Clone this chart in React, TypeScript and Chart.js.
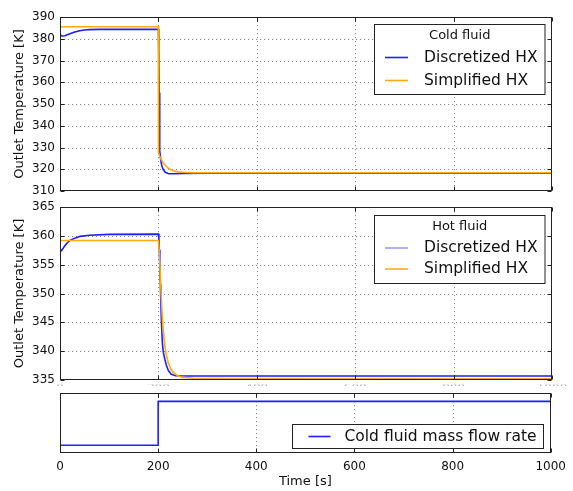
import React, { useEffect, useRef } from "react";
import { Chart, registerables } from "chart.js";

Chart.register(...registerables);

const FONT = "'DejaVu Sans', sans-serif";
const BLUE = "rgb(30,30,255)";
const ORANGE = "rgb(255,170,20)";

// Time axis
const timeTicks = [0, 200, 400, 600, 800, 1000];

// Cold fluid outlet temperature [K]
const coldDiscretizedTime = [0, 5, 10, 20, 30, 40, 50, 60, 80, 200, 200.7, 201.5, 202.3, 203, 205, 207, 210, 214, 220, 230, 250, 300, 1000];
const coldDiscretizedTemp = [381.7, 381.3, 381.4, 382.3, 383.1, 383.7, 384.0, 384.2, 384.3, 384.3, 375, 355, 335, 328.5, 324, 321.5, 319.8, 318.6, 318.0, 317.9, 318.1, 318.2, 318.2];
const coldSimplifiedTime = [0, 199.8, 200.2, 203, 206, 210, 215, 220, 225, 230, 240, 250, 270, 300, 1000];
const coldSimplifiedTemp = [385.5, 385.5, 327.5, 325.8, 324.3, 322.9, 321.5, 320.5, 319.8, 319.3, 318.8, 318.6, 318.45, 318.4, 318.4];

// Hot fluid outlet temperature [K]
const hotDiscretizedTime = [0, 3, 6, 10, 15, 20, 30, 40, 60, 100, 200, 201, 202, 203, 204, 205, 206, 208, 210, 213, 216, 220, 226, 235, 250, 1000];
const hotDiscretizedTemp = [357.7, 357.4, 357.8, 358.3, 358.8, 359.2, 359.6, 359.9, 360.1, 360.25, 360.3, 359.5, 357.5, 354.5, 351.5, 348.5, 345.5, 341.5, 339.8, 338.6, 337.6, 336.7, 336.0, 335.75, 335.7, 335.7];
const hotSimplifiedTime = [0, 200, 202, 204, 206, 208, 210, 213, 216, 220, 225, 230, 240, 250, 270, 300, 1000];
const hotSimplifiedTemp = [359.2, 359.2, 357, 353, 349, 345.8, 343.5, 341, 339.4, 338.0, 336.9, 336.3, 335.7, 335.45, 335.3, 335.25, 335.2];

// Cold fluid mass flow rate (normalised)
const flowTime = [0, 200, 200, 1000];
const flowRate = [0.13, 0.13, 0.86, 0.86];

const toPoints = (xs: number[], ys: number[]) => xs.map((x, i) => ({ x, y: ys[i] }));

type LegendEntry = { label: string; color: string; width: number };
type LegendOpts = {
  right: number; top: number; width: number; height: number;
  title?: string; titleY?: number;
  rows: number[]; sampleX: [number, number]; textX: number;
  entries: LegendEntry[];
};

// Dotted grid, box frame with inward ticks, boxed legend, clipped tick labels
const axesDecor = {
  id: "axesDecor",
  beforeDatasetsDraw(chart: any, _a: any, opts: any) {
    const { ctx, chartArea: a, scales } = chart;
    ctx.save();
    ctx.strokeStyle = "#8a8a8a";
    ctx.lineWidth = 1;
    ctx.setLineDash([1.2, 2.8]);
    for (const t of scales.x.ticks) {
      const px = Math.round(scales.x.getPixelForValue(t.value)) + 0.5;
      if (px <= a.left + 1 || px >= a.right - 1) continue;
      ctx.beginPath(); ctx.moveTo(px, a.top); ctx.lineTo(px, a.bottom); ctx.stroke();
    }
    if (opts.yGrid) {
      for (const t of scales.y.ticks) {
        const py = Math.round(scales.y.getPixelForValue(t.value)) + 0.5;
        if (py <= a.top + 1 || py >= a.bottom - 1) continue;
        ctx.beginPath(); ctx.moveTo(a.left, py); ctx.lineTo(a.right, py); ctx.stroke();
      }
    }
    ctx.restore();
  },
  afterDatasetsDraw(chart: any, _a: any, opts: any) {
    const { ctx, chartArea: a, scales } = chart;
    const L = Math.round(a.left) + 0.5, R = Math.round(a.right) - 0.5;
    const T = Math.round(a.top) + 0.5, B = Math.round(a.bottom) - 0.5;
    ctx.save();
    ctx.strokeStyle = "#222";
    ctx.lineWidth = 1;
    ctx.setLineDash([]);
    const tl = 4;
    for (const t of scales.x.ticks) {
      const px = Math.round(scales.x.getPixelForValue(t.value)) + 0.5;
      ctx.beginPath();
      ctx.moveTo(px, T); ctx.lineTo(px, T + tl);
      ctx.moveTo(px, B); ctx.lineTo(px, B - tl);
      ctx.stroke();
    }
    if (opts.yGrid) {
      for (const t of scales.y.ticks) {
        const py = Math.round(scales.y.getPixelForValue(t.value)) + 0.5;
        ctx.beginPath();
        ctx.moveTo(L, py); ctx.lineTo(L + tl, py);
        ctx.moveTo(R, py); ctx.lineTo(R - tl, py);
        ctx.stroke();
      }
    }
    ctx.strokeRect(L, T, R - L, B - T);

    const lg: LegendOpts | undefined = opts.legend;
    if (lg) {
      const bx = Math.round(a.right - lg.right - lg.width) + 0.5;
      const by = Math.round(a.top + lg.top) + 0.5;
      ctx.fillStyle = "#fff";
      ctx.fillRect(bx, by, lg.width, lg.height);
      ctx.strokeStyle = "#222";
      ctx.strokeRect(bx, by, lg.width, lg.height);
      ctx.fillStyle = "#111";
      ctx.textBaseline = "middle";
      if (lg.title) {
        ctx.font = `13px ${FONT}`;
        ctx.textAlign = "center";
        ctx.fillText(lg.title, bx + lg.width / 2, by + (lg.titleY || 0));
      }
      ctx.font = `15.5px ${FONT}`;
      ctx.textAlign = "left";
      lg.entries.forEach((e, i) => {
        const y = by + lg.rows[i];
        ctx.strokeStyle = e.color;
        ctx.lineWidth = e.width;
        ctx.beginPath();
        ctx.moveTo(bx + lg.sampleX[0], y);
        ctx.lineTo(bx + lg.sampleX[1], y);
        ctx.stroke();
        ctx.fillStyle = "#111";
        ctx.fillText(e.label, bx + lg.textX, y);
      });
    }

    // tick labels of the shared time axis, almost entirely hidden beneath the panel below
    if (opts.clippedLabels) {
      ctx.beginPath();
      ctx.rect(a.left - 20, a.bottom + 4.5, a.right - a.left + 40, 1.5);
      ctx.clip();
      ctx.fillStyle = "#aaa";
      ctx.font = `12px ${FONT}`;
      ctx.textAlign = "center";
      ctx.textBaseline = "top";
      for (const t of scales.x.ticks) {
        ctx.fillText(String(t.value), scales.x.getPixelForValue(t.value), a.bottom + 3);
      }
    }
    ctx.restore();
  },
};

type PanelSpec = {
  datasets: any[];
  yMin: number; yMax: number; yStep?: number;
  yLabel?: string;
  padTop: number; padBottom: number; xHeight: number;
  xLabels: boolean;
  yGrid: boolean;
  clippedLabels?: boolean;
  legend?: LegendOpts;
};

function buildConfig(p: PanelSpec): any {
  return {
    type: "line",
    data: { datasets: p.datasets },
    plugins: [axesDecor],
    options: {
      animation: false,
      responsive: false,
      devicePixelRatio: 1,
      events: [],
      layout: { padding: { left: 0, right: 21, top: p.padTop, bottom: p.padBottom } },
      elements: { point: { radius: 0 }, line: { tension: 0, borderCapStyle: "round", borderJoinStyle: "round" } },
      plugins: {
        legend: { display: false },
        tooltip: { enabled: false },
        axesDecor: { yGrid: p.yGrid, legend: p.legend, clippedLabels: p.clippedLabels },
      },
      scales: {
        x: {
          type: "linear",
          min: 0,
          max: 1000,
          afterBuildTicks: (s: any) => { s.ticks = timeTicks.map((v) => ({ value: v })); },
          ticks: {
            display: p.xLabels,
            font: { family: FONT, size: 12 },
            color: "#111",
            padding: 7,
            maxRotation: 0,
            callback: (v: any) => String(v),
          },
          grid: { display: false, drawTicks: false },
          border: { display: false },
          title: {
            display: p.xLabels,
            text: "Time [s]",
            font: { family: FONT, size: 13 },
            color: "#111",
            padding: { top: 0, bottom: 1.7 },
          },
          afterFit: (s: any) => { s.height = p.xHeight; },
        },
        y: {
          type: "linear",
          min: p.yMin,
          max: p.yMax,
          ticks: { display: !!p.yStep, stepSize: p.yStep, font: { family: FONT, size: 12 }, color: "#111", padding: 5 },
          grid: { display: false, drawTicks: false },
          border: { display: false },
          title: {
            display: !!p.yLabel,
            text: p.yLabel || "",
            font: { family: FONT, size: 13 },
            color: "#111",
            padding: { top: 12.2, bottom: 0 },
          },
          afterFit: (s: any) => { s.width = 60; },
        },
      },
    },
  };
}

function Panel({ spec, top, height }: { spec: PanelSpec; top: number; height: number }) {
  const ref = useRef<HTMLCanvasElement>(null);
  useEffect(() => {
    const chart = new Chart(ref.current as HTMLCanvasElement, buildConfig(spec));
    return () => chart.destroy();
  }, []);
  return (
    <canvas
      ref={ref}
      width={573}
      height={height}
      style={{ position: "absolute", left: 0, top, width: 573, height }}
    />
  );
}

const line = (label: string, xs: number[], ys: number[], color: string, order: number) => ({
  label,
  data: toPoints(xs, ys),
  borderColor: color,
  borderWidth: 1.6,
  fill: false,
  order,
});

const coldSpec: PanelSpec = {
  datasets: [
    line("Discretized HX", coldDiscretizedTime, coldDiscretizedTemp, BLUE, 2),
    line("Simplified HX", coldSimplifiedTime, coldSimplifiedTemp, ORANGE, 1),
  ],
  yMin: 310, yMax: 390, yStep: 10,
  yLabel: "Outlet Temperature [K]",
  padTop: 17, padBottom: 14, xHeight: 0,
  xLabels: false, yGrid: true,
  legend: {
    right: 8, top: 7, width: 170.5, height: 70,
    title: "Cold fluid", titleY: 11,
    rows: [33, 56], sampleX: [10.5, 33.5], textX: 49.5,
    entries: [
      { label: "Discretized HX", color: BLUE, width: 1.6 },
      { label: "Simplified HX", color: ORANGE, width: 1.6 },
    ],
  },
};

const hotSpec: PanelSpec = {
  datasets: [
    line("Discretized HX", hotDiscretizedTime, hotDiscretizedTemp, BLUE, 2),
    line("Simplified HX", hotSimplifiedTime, hotSimplifiedTemp, ORANGE, 1),
  ],
  yMin: 335, yMax: 365, yStep: 5,
  yLabel: "Outlet Temperature [K]",
  padTop: 17, padBottom: 15, xHeight: 0,
  xLabels: false, yGrid: true, clippedLabels: true,
  legend: {
    right: 8, top: 8, width: 170.5, height: 68,
    title: "Hot fluid", titleY: 11,
    rows: [32.5, 53.5], sampleX: [10.5, 33.5], textX: 49.5,
    entries: [
      { label: "Discretized HX", color: BLUE, width: 0.7 },
      { label: "Simplified HX", color: ORANGE, width: 1.6 },
    ],
  },
};

const flowSpec: PanelSpec = {
  datasets: [line("Cold fluid mass flow rate", flowTime, flowRate, BLUE, 1)],
  yMin: 0, yMax: 1,
  padTop: 13, padBottom: 0, xHeight: 38,
  xLabels: true, yGrid: false,
  legend: {
    right: 8, top: 30.5, width: 251, height: 24,
    rows: [12], sampleX: [16, 38], textX: 52,
    entries: [{ label: "Cold fluid mass flow rate", color: BLUE, width: 1.6 }],
  },
};

export default function App() {
  return (
    <div style={{ position: "absolute", left: 0, top: 0, width: 573, height: 491, background: "#fff", overflow: "hidden" }}>
      <Panel spec={coldSpec} top={0} height={205} />
      <Panel spec={hotSpec} top={190} height={205} />
      <Panel spec={flowSpec} top={380} height={111} />
    </div>
  );
}
